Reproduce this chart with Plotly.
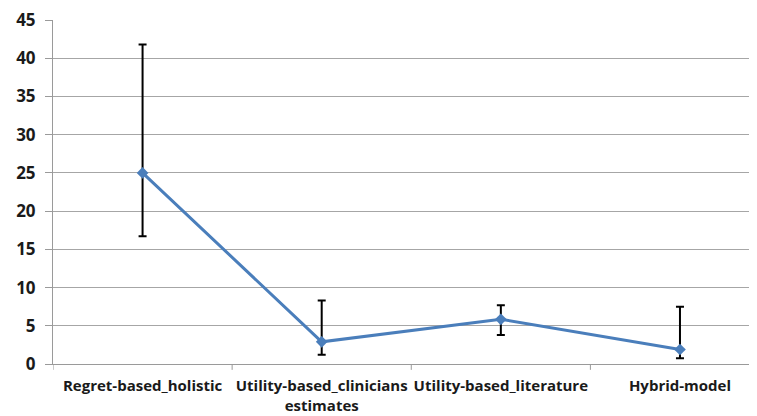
import plotly.graph_objects as go

categories = ["Regret-based_holistic", "Utility-based_clinicians<br>estimates",
              "Utility-based_literature", "Hybrid-model"]
values = [25.0, 2.9, 5.85, 1.9]
upper = [41.8, 8.3, 7.7, 7.5]
lower = [16.7, 1.2, 3.8, 0.75]
y_ticks = [0, 5, 10, 15, 20, 25, 30, 35, 40, 45]

err_plus = [u - v for u, v in zip(upper, values)]
err_minus = [v - l for v, l in zip(values, lower)]

fig = go.Figure()
fig.add_trace(go.Scatter(
    x=list(range(len(categories))), y=values, mode="lines+markers",
    line=dict(color="#4A7EBB", width=3),
    marker=dict(symbol="diamond", size=9, color="#4A7EBB"),
    error_y=dict(type="data", symmetric=False, array=err_plus, arrayminus=err_minus,
                 color="black", thickness=2, width=4),
    showlegend=False,
))

fig.update_layout(
    width=749, height=408,
    margin=dict(l=45, r=0, t=12, b=52, autoexpand=False),
    paper_bgcolor="white", plot_bgcolor="white",
    font=dict(family="Open Sans, Liberation Sans, sans-serif", color="#1a1a1a"),
    xaxis=dict(
        range=[-0.5, 3.43], tickmode="array",
        tickvals=list(range(len(categories))), ticktext=categories,
        tickfont=dict(size=15, weight="bold"),
        showgrid=False, showline=True, linecolor="#9a9a9a", linewidth=1,
        zeroline=False, ticks="", ticklabelstandoff=8, automargin=False,
        ticklabeloverflow="allow",
    ),
    yaxis=dict(
        range=[0, 45], tickvals=y_ticks,
        tickfont=dict(size=17, weight="bold"),
        showgrid=True, gridcolor="#a6a6a6", gridwidth=1,
        showline=True, linecolor="#9a9a9a", linewidth=1,
        ticks="outside", ticklen=7, tickcolor="#9a9a9a",
        zeroline=False, ticklabelstandoff=6, automargin=False,
        ticklabeloverflow="allow",
    ),
)

# category boundary tick marks
for b in [-0.5, 0.5, 1.5, 2.5]:
    fig.add_shape(type="line", xref="x", yref="paper", x0=b, x1=b, y0=0, y1=-0.017,
                  line=dict(color="#9a9a9a", width=1))

fig.write_html("out.html")
